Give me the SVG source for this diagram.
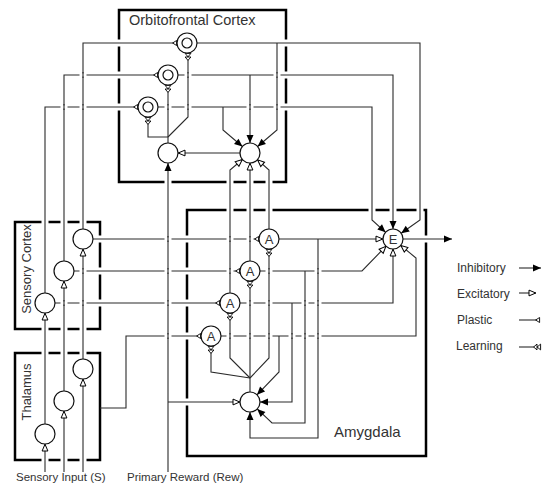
<svg xmlns="http://www.w3.org/2000/svg" width="546" height="484" viewBox="0 0 546 484">
<style>
.box{fill:none;stroke:#000;stroke-width:2.5}
.c{fill:none;stroke:#2a2a2a;stroke-width:1.1}
.n{fill:#fff;stroke:#111;stroke-width:1.2}
.t{font-family:"Liberation Sans",Arial,sans-serif;fill:#333}
.nl{font-family:"Liberation Sans",Arial,sans-serif;font-size:13px;fill:#333;text-anchor:middle}
.gap{fill:#fff}
</style>
<defs>
<marker id="inh" markerUnits="userSpaceOnUse" markerWidth="8" markerHeight="7" viewBox="0 0 8 7" refX="8" refY="3.5" orient="auto" overflow="visible"><path d="M0,0 L8,3.5 L0,7 z" fill="#000"/></marker>
<marker id="exc" markerUnits="userSpaceOnUse" markerWidth="8" markerHeight="7" viewBox="0 0 8 7" refX="7.6" refY="3.5" orient="auto" overflow="visible"><path d="M0.6,0.6 L7.4,3.5 L0.6,6.4 z" fill="#fff" stroke="#000" stroke-width="1"/></marker>
<marker id="pla" markerUnits="userSpaceOnUse" markerWidth="5" markerHeight="6" viewBox="0 0 5 6" refX="5" refY="3" orient="auto" overflow="visible"><path d="M4.6,0.5 L0.6,3 L4.6,5.5 z" fill="#fff" stroke="#000" stroke-width="0.9"/></marker>
<marker id="lrn" markerUnits="userSpaceOnUse" markerWidth="8" markerHeight="7" viewBox="0 0 8 7" refX="8" refY="3.5" orient="auto" overflow="visible"><path d="M7.6,0.6 L4.2,3.5 L7.6,6.4 z M4,0.6 L0.6,3.5 L4,6.4 z" fill="#fff" stroke="#000" stroke-width="0.9"/></marker>
</defs>
<rect width="546" height="484" fill="#fff"/>

<g id="regions">
<rect class="box" x="119" y="10" width="167" height="172"/>
<rect class="box" x="187" y="210" width="239" height="246"/>
<rect class="box" x="15" y="222" width="85" height="107"/>
<rect class="box" x="15" y="353" width="85" height="107"/>
<text class="t" x="129" y="25" font-size="14.5">Orbitofrontal Cortex</text>
<text class="t" x="334" y="437" font-size="15">Amygdala</text>
<text class="t" font-size="13" text-anchor="middle" transform="translate(31,269) rotate(-90)">Sensory Cortex</text>
<text class="t" font-size="13" text-anchor="middle" transform="translate(31,392) rotate(-90)">Thalamus</text>
</g>

<g id="border-gaps" class="gap">
<rect x="117" y="39.5" width="4" height="7"/><rect x="117" y="71.5" width="4" height="7"/><rect x="117" y="103.5" width="4" height="7"/>
<rect x="284" y="39.5" width="4" height="7"/><rect x="284" y="71.5" width="4" height="7"/><rect x="284" y="103.5" width="4" height="7"/>
<rect x="98" y="235.5" width="4" height="7"/><rect x="98" y="267.5" width="4" height="7"/><rect x="98" y="299.5" width="4" height="7"/>
<rect x="185" y="235.5" width="4" height="7"/><rect x="185" y="267.5" width="4" height="7"/><rect x="185" y="299.5" width="4" height="7"/><rect x="185" y="332.5" width="4" height="7"/><rect x="185" y="398.5" width="4" height="7"/>
<rect x="424" y="235.5" width="4" height="7"/>
<rect x="164.5" y="180" width="7" height="4"/><rect x="226.5" y="180" width="7" height="4"/><rect x="246.5" y="180" width="7" height="4"/><rect x="265.5" y="180" width="7" height="4"/>
<rect x="226.5" y="208" width="7" height="4"/><rect x="246.5" y="208" width="7" height="4"/><rect x="265.5" y="208" width="7" height="4"/><rect x="368.5" y="208" width="7" height="4"/><rect x="389.5" y="208" width="7" height="4"/><rect x="416.5" y="208" width="7" height="4"/>
<rect x="41.5" y="220" width="7" height="4"/><rect x="60.5" y="220" width="7" height="4"/><rect x="79.5" y="220" width="7" height="4"/>
<rect x="41.5" y="327" width="7" height="4"/><rect x="60.5" y="327" width="7" height="4"/><rect x="79.5" y="327" width="7" height="4"/>
<rect x="41.5" y="351" width="7" height="4"/><rect x="60.5" y="351" width="7" height="4"/><rect x="79.5" y="351" width="7" height="4"/>
<rect x="41.5" y="458" width="7" height="4"/><rect x="60.5" y="458" width="7" height="4"/><rect x="79.5" y="458" width="7" height="4"/>
</g>

<g id="connectors" class="c">
<path d="M45,472 V444" marker-end="url(#exc)"/>
<path d="M64,472 V411" marker-end="url(#exc)"/>
<path d="M83,472 V379" marker-end="url(#exc)"/>
<path d="M45,424 V313" marker-end="url(#exc)"/>
<path d="M64,391 V281" marker-end="url(#exc)"/>
<path d="M83,359 V249" marker-end="url(#exc)"/>
<path d="M45,293 V107 H138" marker-end="url(#pla)"/>
<path d="M64,261 V75 H158" marker-end="url(#pla)"/>
<path d="M83,229 V43 H177" marker-end="url(#pla)"/>
<path d="M93,239 H259" marker-end="url(#pla)"/>
<path d="M74,271 H240" marker-end="url(#pla)"/>
<path d="M55,303 H220" marker-end="url(#pla)"/>
<path d="M100,408 H126 V336 H201" marker-end="url(#pla)"/>
<path d="M168,472 V163" marker-end="url(#inh)"/>
<path d="M168,402 H240" marker-end="url(#exc)"/>
<path d="M197,43 H420 V220 L401.2,233.3" marker-end="url(#inh)"/>
<path d="M277,43 V130 L257.6,146.5" marker-end="url(#inh)"/>
<path d="M178,75 H393 V229" marker-end="url(#inh)"/>
<path d="M250,75 V143" marker-end="url(#inh)"/>
<path d="M158,107 H372 V220 L385.6,232.3" marker-end="url(#inh)"/>
<path d="M223,107 V130 L242.4,146.5" marker-end="url(#inh)"/>
<path d="M168,143 V85" marker-end="url(#lrn)"/>
<path d="M168,137 H148 V117" marker-end="url(#lrn)"/>
<path d="M168,137 L188,117 V53" marker-end="url(#lrn)"/>
<path d="M240,153 H178" marker-end="url(#exc)"/>
<path d="M269,229 V170 L257.4,159.7" marker-end="url(#exc)"/>
<path d="M250,261 V163" marker-end="url(#exc)"/>
<path d="M230,293 V170 L242.4,159.5" marker-end="url(#exc)"/>
<path d="M279,239 H383" marker-end="url(#exc)"/>
<path d="M318,239 V438 H250 V412" marker-end="url(#inh)"/>
<path d="M260,271 H362 L386,246.2" marker-end="url(#exc)"/>
<path d="M305,271 V423 H272 L257.2,408.9" marker-end="url(#inh)"/>
<path d="M240,303 H393 V249" marker-end="url(#exc)"/>
<path d="M292,303 V402 H260" marker-end="url(#inh)"/>
<path d="M221,336 H416 V258 L400.7,245.4" marker-end="url(#exc)"/>
<path d="M279,336 V372 L257,394.8" marker-end="url(#inh)"/>
<path d="M250,392 V281" marker-end="url(#lrn)"/>
<path d="M250,378 L269,358 V249" marker-end="url(#lrn)"/>
<path d="M250,378 L230,358 V313" marker-end="url(#lrn)"/>
<path d="M250,378 L211,372 V346" marker-end="url(#lrn)"/>
<path d="M403,239 H452" marker-end="url(#inh)"/>
</g>

<g id="crossings">
<g class="gap">
<rect x="79.5" y="73.5" width="7" height="3"/><rect x="184.5" y="73.5" width="7" height="3"/><rect x="273.5" y="73.5" width="7" height="3"/>
<rect x="60.5" y="105.5" width="7" height="3"/><rect x="79.5" y="105.5" width="7" height="3"/><rect x="164.5" y="105.5" width="7" height="3"/><rect x="184.5" y="105.5" width="7" height="3"/><rect x="246.5" y="105.5" width="7" height="3"/><rect x="273.5" y="105.5" width="7" height="3"/>
<rect x="164.5" y="237.5" width="7" height="3"/><rect x="226.5" y="237.5" width="7" height="3"/><rect x="246.5" y="237.5" width="7" height="3"/>
<rect x="79.5" y="269.5" width="7" height="3"/><rect x="164.5" y="269.5" width="7" height="3"/><rect x="226.5" y="269.5" width="7" height="3"/><rect x="265.5" y="269.5" width="7" height="3"/><rect x="314.5" y="269.5" width="7" height="3"/>
<rect x="60.5" y="301.5" width="7" height="3"/><rect x="79.5" y="301.5" width="7" height="3"/><rect x="164.5" y="301.5" width="7" height="3"/><rect x="246.5" y="301.5" width="7" height="3"/><rect x="265.5" y="301.5" width="7" height="3"/><rect x="301.5" y="301.5" width="7" height="3"/><rect x="314.5" y="301.5" width="7" height="3"/>
<rect x="164.5" y="334.5" width="7" height="3"/><rect x="226.5" y="334.5" width="7" height="3"/><rect x="246.5" y="334.5" width="7" height="3"/><rect x="265.5" y="334.5" width="7" height="3"/><rect x="288.5" y="334.5" width="7" height="3"/><rect x="301.5" y="334.5" width="7" height="3"/><rect x="314.5" y="334.5" width="7" height="3"/>
</g>
<path class="c" d="M83,72V78 M188,72V78 M277,72V78 M64,104V110 M83,104V110 M168,104V110 M188,104V110 M250,104V110 M277,104V110 M168,236V242 M230,236V242 M250,236V242 M83,268V274 M168,268V274 M230,268V274 M269,268V274 M318,268V274 M64,300V306 M83,300V306 M168,300V306 M250,300V306 M269,300V306 M305,300V306 M318,300V306 M168,333V339 M230,333V339 M250,333V339 M269,333V339 M292,333V339 M305,333V339 M318,333V339"/>
</g>

<g id="ofc-o1"><circle class="n" cx="187" cy="43" r="10"/><circle class="n" cx="187" cy="43" r="5"/></g>
<g id="ofc-o2"><circle class="n" cx="168" cy="75" r="10"/><circle class="n" cx="168" cy="75" r="5"/></g>
<g id="ofc-o3"><circle class="n" cx="148" cy="107" r="10"/><circle class="n" cx="148" cy="107" r="5"/></g>
<g id="ofc-c1"><circle class="n" cx="168" cy="153" r="10"/></g>
<g id="ofc-c2"><circle class="n" cx="250" cy="153" r="10"/></g>
<g id="amy-a1"><circle class="n" cx="269" cy="239" r="10"/><text class="nl" x="269" y="243.7">A</text></g>
<g id="amy-a2"><circle class="n" cx="250" cy="271" r="10"/><text class="nl" x="250" y="275.7">A</text></g>
<g id="amy-a3"><circle class="n" cx="230" cy="303" r="10"/><text class="nl" x="230" y="307.7">A</text></g>
<g id="amy-a4"><circle class="n" cx="211" cy="336" r="10"/><text class="nl" x="211" y="340.7">A</text></g>
<g id="amy-e"><circle class="n" cx="393" cy="239" r="10"/><text class="nl" x="393" y="243.7">E</text></g>
<g id="amy-b"><circle class="n" cx="250" cy="402" r="10"/></g>
<g id="sc1"><circle class="n" cx="83" cy="239" r="10"/></g>
<g id="sc2"><circle class="n" cx="64" cy="271" r="10"/></g>
<g id="sc3"><circle class="n" cx="45" cy="303" r="10"/></g>
<g id="th1"><circle class="n" cx="83" cy="369" r="10"/></g>
<g id="th2"><circle class="n" cx="64" cy="401" r="10"/></g>
<g id="th3"><circle class="n" cx="45" cy="434" r="10"/></g>

<g id="inputs-labels">
<text class="t" x="16" y="481" font-size="11.5">Sensory Input (S)</text>
<text class="t" x="127" y="481" font-size="11.5">Primary Reward (Rew)</text>
</g>

<g id="legend">
<text class="t" x="457" y="272" font-size="12">Inhibitory</text>
<text class="t" x="457" y="298" font-size="12">Excitatory</text>
<text class="t" x="457" y="324" font-size="12">Plastic</text>
<text class="t" x="456" y="350" font-size="12">Learning</text>
<path class="c" d="M519,268 H541" marker-end="url(#inh)"/>
<path class="c" d="M519,293 H536" marker-end="url(#exc)"/>
<path class="c" d="M519,320 H540" marker-end="url(#pla)"/>
<path class="c" d="M519,347 H541" marker-end="url(#lrn)"/>
</g>
</svg>
